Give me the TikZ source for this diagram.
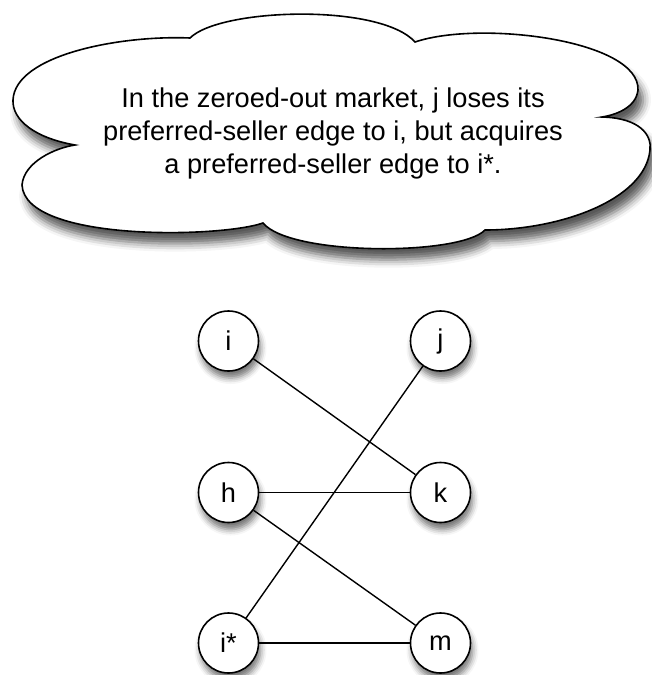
\documentclass[tikz,border=0pt]{standalone}
\usepackage{fontspec}
\setmainfont{Liberation Sans}
\usepackage{tikz}
\usetikzlibrary{shadows.blur}
\tikzset{vertex/.style={circle, draw, line width=0.8pt, fill=white, minimum size=30pt, inner sep=0pt,
  font=\fontsize{13.6}{16.5}\selectfont,
  blur shadow={shadow xshift=1pt, shadow yshift=-3.5pt, shadow blur radius=3pt, shadow opacity=55}}}
\tikzset{edge/.style={line width=0.7pt}}

\begin{document}
\begin{tikzpicture}[x=0.5pt,y=-0.5pt]
\useasboundingbox (0,0) rectangle (652,675);
% the cloud
\draw[line width=0.8pt, fill=white, blur shadow={shadow xshift=2.5pt, shadow yshift=-5.5pt, shadow blur radius=4pt, shadow opacity=65}]
  (75,145) .. controls (35,138) and (12,120) .. (13,100)
  .. controls (15,55) and (120,35) .. (190,38)
  .. controls (220,8) and (380,3) .. (415,42)
  .. controls (480,20) and (640,40) .. (638,90)
  .. controls (636,108) and (615,115) .. (602,117)
  .. controls (640,118) and (652,135) .. (650,150)
  .. controls (645,200) and (560,230) .. (485,230)
  .. controls (460,256) and (290,256) .. (263,223)
  .. controls (220,238) and (25,242) .. (22,185)
  .. controls (24,162) and (55,148) .. (75,145) -- cycle;
\node[align=center, font=\fontsize{13.6}{16.5}\selectfont] (note) at (333,133)
  {In the zeroed-out market, j loses its\\ preferred-seller edge to i, but acquires\\ a preferred-seller edge to i*.};
% sellers and buyers
\node[vertex] (i) at (228.5,341) {i};
\node[vertex] (j) at (440.5,341) {j};
\node[vertex] (h) at (228.5,492.5) {h};
\node[vertex] (k) at (440.5,492.5) {k};
\node[vertex] (is) at (228.5,643) {i*};
\node[vertex] (m) at (440.5,643) {m};
\draw[edge] (i) -- (k);
\draw[edge] (j) -- (is);
\draw[edge] (h) -- (k);
\draw[edge] (h) -- (m);
\draw[edge] (is) -- (m);
\end{tikzpicture}
\end{document}
